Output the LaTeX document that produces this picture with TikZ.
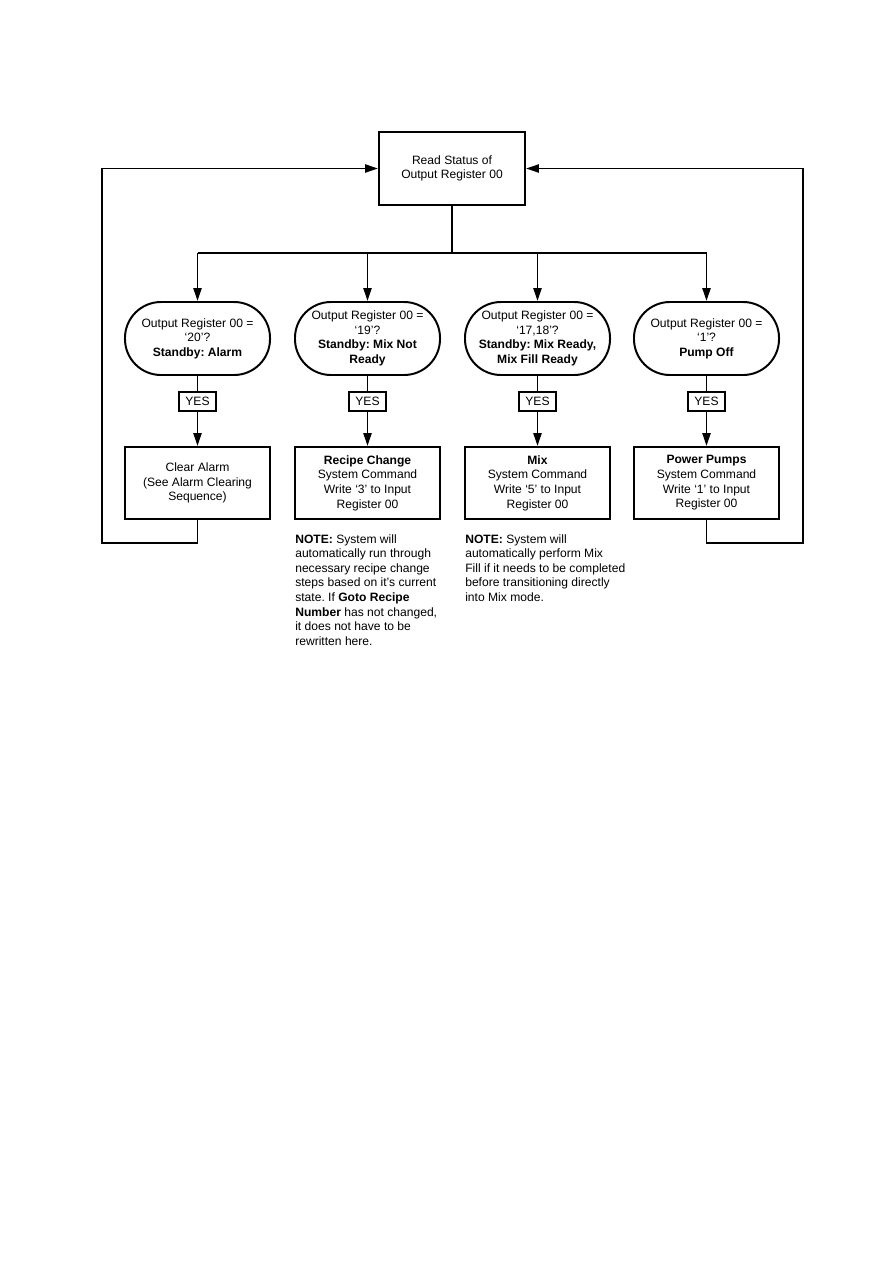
\documentclass[tikz,border=0pt]{standalone}
\usepackage{fontspec}
\setmainfont{Liberation Sans}
\frenchspacing
\usepackage{tikz}
\usetikzlibrary{arrows.meta, calc}
\tikzset{
  flow/.style={line width=1.4pt},
  arrow/.style={flow, -{Triangle[length=3.2mm, width=2mm]}},
  process/.style={draw, line width=1.4pt, minimum width=3.625cm, minimum height=1.8cm,
      align=center, inner sep=1pt, font=\fontsize{8.6}{10.4}\selectfont},
  query/.style={draw, line width=1.4pt, rounded corners=0.9cm, minimum width=3.625cm,
      minimum height=1.825cm, align=center, inner sep=1pt, font=\fontsize{8.6}{10.4}\selectfont},
  yesbox/.style={draw, line width=1.4pt, minimum width=0.925cm, minimum height=0.475cm,
      inner sep=1pt, font=\fontsize{8.6}{10.4}\selectfont},
  note/.style={align=left, inner sep=0pt, font=\fontsize{8.6}{10.4}\selectfont},
}

\begin{document}
\begin{tikzpicture}[x=0.025cm, y=-0.025cm]
  \useasboundingbox (0,0) rectangle (893,1263);
  \node[process, minimum width=3.65cm, minimum height=1.825cm] (read) at (452,168.5)
    {Read Status of\\Output Register 00};
  \node[query] (q1) at (197.5,338.5) {Output Register 00 =\\`20'?\\\textbf{Standby: Alarm}};
  \node[query] (q2) at (367.5,338.5) {Output Register 00 =\\`19'?\\\textbf{Standby: Mix Not}\\\textbf{Ready}};
  \node[query] (q3) at (537.5,338.5) {Output Register 00 =\\`17,18'?\\\textbf{Standby: Mix Ready,}\\\textbf{Mix Fill Ready}};
  \node[query] (q4) at (706.5,338.5) {Output Register 00 =\\`1'?\\\textbf{Pump Off}};
  \foreach \i/\x in {1/197.5, 2/367.5, 3/537.5, 4/706.5}
    \node[yesbox] (yes\i) at (\x,401.5) {YES};
  \node[process] (act1) at (197.5,483) {Clear Alarm\\(See Alarm Clearing\\Sequence)};
  \node[process] (act2) at (367.5,483) {\textbf{Recipe Change}\\System Command\\Write `3' to Input\\Register 00};
  \node[process] (act3) at (537.5,483) {\textbf{Mix}\\System Command\\Write `5' to Input\\Register 00};
  \node[process] (act4) at (706.5,483) {\textbf{Power Pumps}\\System Command\\Write `1' to Input\\Register 00};
  \node[note, anchor=north west] (note2) at (295,534)
    {\textbf{NOTE:} System will\\automatically run through\\necessary recipe change\\steps based on it's current\\state. If \textbf{Goto Recipe}\\\textbf{Number} has not changed,\\it does not have to be\\rewritten here.};
  \node[note, anchor=north west] (note3) at (465,534)
    {\textbf{NOTE:} System will\\automatically perform Mix\\Fill if it needs to be completed\\before transitioning directly\\into Mix mode.};
  % branching
  \coordinate (split) at (452,253);
  \coordinate (loopL) at (102,543);
  \coordinate (loopR) at (803,543);
  \draw[flow] (read) -- (split);
  \draw[flow] (q1.north |- split) -- (q4.north |- split);
  \foreach \i in {1,...,4} {
    \draw[arrow] (q\i.north |- split) -- (q\i.north);
    \draw[flow] (q\i) -- (yes\i);
    \draw[arrow] (yes\i) -- (act\i);
  }
  % return loops
  \draw[arrow] (act1.south) |- (loopL) |- (read.west);
  \draw[arrow] (act4.south) |- (loopR) |- (read.east);
\end{tikzpicture}
\end{document}
